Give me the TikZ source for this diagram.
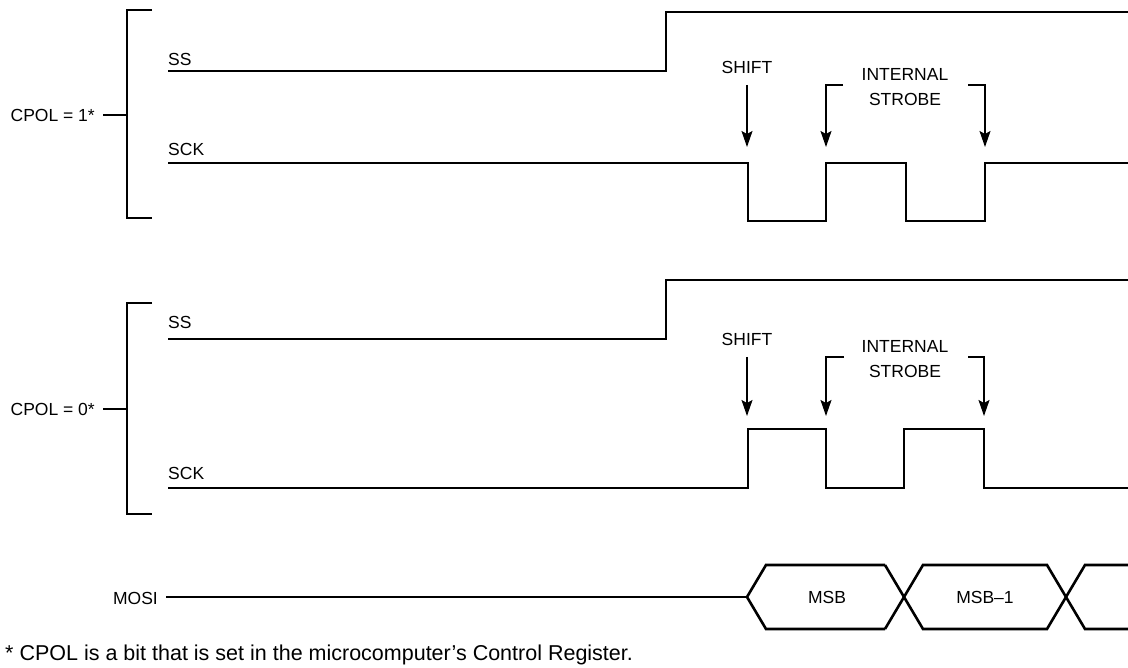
\documentclass[tikz,border=0pt]{standalone}
\usepackage{fontspec}
\setmainfont{Liberation Sans}
\usetikzlibrary{arrows.meta}
\tikzset{
  sig/.style={line width=2.6pt, line join=miter},
  brk/.style={line width=2.6pt, line join=miter},
  arr/.style={line width=1.3pt, -{Stealth[length=16pt,width=11pt,inset=3pt]}},
  arrl/.style={line width=1.3pt},
  lbl/.style={inner sep=0pt, font=\fontsize{17.5}{25.5}\selectfont},
  foot/.style={inner sep=0pt, font=\fontsize{21.5}{24}\selectfont}
}
\begin{document}
\begin{tikzpicture}[x=1pt,y=-1pt]
\useasboundingbox (0,0) rectangle (1128,668);

% ---------- CPOL = 1 ----------
\node[lbl, anchor=east] (cpol1) at (95,115) {CPOL = 1*};
\coordinate (b1t) at (152,10);
\coordinate (b1b) at (152,218);
\coordinate (b1m) at (127,115);
\draw[brk] (b1t) -- (127,10) -- (127,218) -- (b1b);
\draw[brk] (103,115) -- (b1m);

\node[lbl, anchor=west] (ss1) at (168,59.5) {SS};
\draw[sig] (168,71) -- (666,71) -- (666,12) -- (1128,12);

\node[lbl, anchor=west] (sck1) at (168,149) {SCK};
\draw[sig] (168,163) -- (748,163) -- (748,221) -- (826,221) -- (826,163)
  -- (906,163) -- (906,221) -- (985,221) -- (985,163) -- (1128,163);

\node[lbl] (shift1) at (747,67) {SHIFT};
\coordinate (sh1a) at (747,85);
\coordinate (sh1b) at (747,147);
\draw[arr] (sh1a) -- (sh1b);

\node[lbl, align=center] (is1) at (905,87) {INTERNAL\\STROBE};
\coordinate (isl1) at (843,85);
\coordinate (isl1b) at (826,147);
\coordinate (isr1) at (968,85);
\coordinate (isr1b) at (985,147);
\draw[arr] (isl1) -- (826,85) -- (isl1b);
\draw[arr] (isr1) -- (985,85) -- (isr1b);

% ---------- CPOL = 0 ----------
\node[lbl, anchor=east] (cpol0) at (95,409) {CPOL = 0*};
\coordinate (b0t) at (152,303);
\coordinate (b0b) at (152,514);
\coordinate (b0m) at (127,409);
\draw[brk] (b0t) -- (127,303) -- (127,514) -- (b0b);
\draw[brk] (103,409) -- (b0m);

\node[lbl, anchor=west] (ss0) at (168,322) {SS};
\draw[sig] (168,339) -- (666,339) -- (666,280) -- (1128,280);

\node[lbl, anchor=west] (sck0) at (168,473) {SCK};
\draw[sig] (168,488) -- (748,488) -- (748,429) -- (826,429) -- (826,488)
  -- (904,488) -- (904,429) -- (984,429) -- (984,488) -- (1128,488);

\node[lbl] (shift0) at (747,339.5) {SHIFT};
\coordinate (sh0a) at (747,357);
\coordinate (sh0b) at (747,416);
\draw[arr] (sh0a) -- (sh0b);

\node[lbl, align=center] (is0) at (905,359) {INTERNAL\\STROBE};
\coordinate (isl0) at (844,357);
\coordinate (isl0b) at (826,416);
\coordinate (isr0) at (968,357);
\coordinate (isr0b) at (984,416);
\draw[arr] (isl0) -- (826,357) -- (isl0b);
\draw[arr] (isr0) -- (984,357) -- (isr0b);

% ---------- MOSI ----------
\node[lbl, anchor=east] (mosi) at (158,598) {MOSI};
\draw[sig] (166,597) -- (747,597);
\draw[sig] (885,565) -- (766,565) -- (747,597) -- (766,629) -- (885,629);
\draw[sig] (885,565) -- (923,629) -- (1047,629) -- (1085,565) -- (1128,565);
\draw[sig] (885,629) -- (923,565) -- (1047,565) -- (1085,629) -- (1128,629);
\node[lbl] (msb) at (827,597) {MSB};
\node[lbl] (msb1) at (985,597) {MSB–1};

% ---------- footnote ----------
\node[foot, anchor=base west] (note) at (5,660) {* CPOL is a bit that is set in the microcomputer’s Control Register.};
\end{tikzpicture}
\end{document}
